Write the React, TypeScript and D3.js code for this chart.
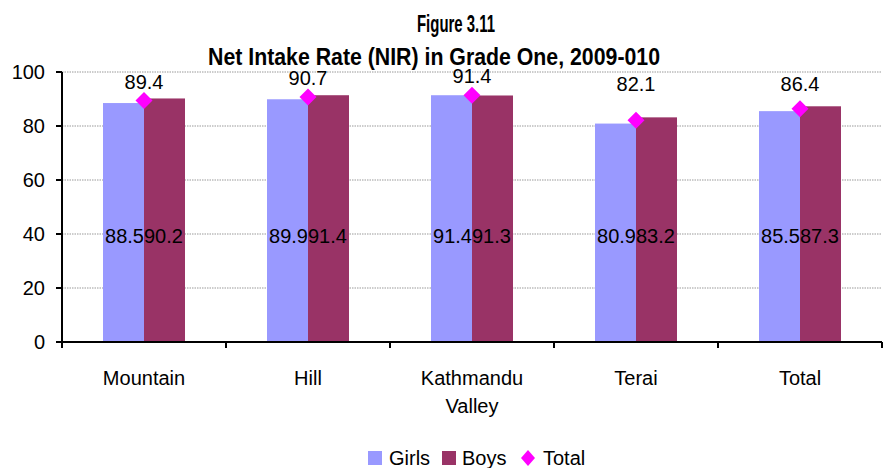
import React from "react";
import * as d3 from "d3";

const categories = ["Mountain", "Hill", "Kathmandu Valley", "Terai", "Total"];
const girls = [88.5, 89.9, 91.4, 80.9, 85.5];
const boys = [90.2, 91.4, 91.3, 83.2, 87.3];
const total = [89.4, 90.7, 91.4, 82.1, 86.4];
const yTicks = [0, 20, 40, 60, 80, 100];
const series = ["Girls", "Boys"];

const W = 883;
const H = 468;
const left = 62;
const right = 882;
const top = 72;
const bottom = 342;
const GIRLS = "#9999FF";
const BOYS = "#993366";
const TOTAL = "#FF00FF";
const FONT = "'Liberation Sans', Arial, sans-serif";
const NARROW = "'Liberation Sans Narrow', 'Arial Narrow', 'Liberation Sans', Arial, sans-serif";

export default function App() {
  const x = d3.scaleBand<string>().domain(categories).range([left, right]).paddingInner(0.5).paddingOuter(0.25);
  const xs = d3.scaleBand<string>().domain(series).range([0, x.bandwidth()]);
  const y = d3.scaleLinear().domain([0, 100]).range([bottom, top]);
  const step = x.step();
  const boundaries = d3.range(categories.length + 1).map((i) => left + i * step);

  return (
    <svg width={W} height={H} style={{ position: "absolute", left: 0, top: 0, background: "#fff" }}>
      <rect x={0} y={0} width={W} height={H} fill="#fff" />
      {/* title */}
      <text x={456} y={32} textAnchor="middle" fontFamily={NARROW} fontWeight="bold" fontSize={23} textLength={78} lengthAdjust="spacingAndGlyphs" fill="#000">
        Figure 3.11
      </text>
      <text x={434} y={65} textAnchor="middle" fontFamily={NARROW} fontWeight="bold" fontSize={23} textLength={452} lengthAdjust="spacingAndGlyphs" fill="#000">
        Net Intake Rate (NIR) in Grade One, 2009-010
      </text>
      {/* gridlines */}
      {yTicks.filter((t) => t > 0).map((t) => (
        <line key={t} x1={left} x2={right} y1={y(t)} y2={y(t)} stroke="#999" strokeWidth={1} strokeDasharray="1.5,1" />
      ))}
      {/* bars */}
      {categories.map((c, i) => (
        <g key={c}>
          <rect x={x(c)! + xs("Girls")!} y={y(girls[i])} width={xs.bandwidth()} height={bottom - y(girls[i])} fill={GIRLS} />
          <rect x={x(c)! + xs("Boys")!} y={y(boys[i])} width={xs.bandwidth()} height={bottom - y(boys[i])} fill={BOYS} />
        </g>
      ))}
      {/* inner labels */}
      {categories.map((c, i) => (
        <g key={c + "l"} fontFamily={FONT} fontSize={20} fill="#000">
          <text x={x(c)! + xs("Boys")!} y={243} textAnchor="end">{girls[i].toFixed(1)}</text>
          <text x={x(c)! + xs("Boys")!} y={243} textAnchor="start">{boys[i].toFixed(1)}</text>
        </g>
      ))}
      {/* total markers */}
      {categories.map((c, i) => {
        const cx = x(c)! + x.bandwidth() / 2;
        const cy = y(total[i]);
        const r = 8.5;
        return (
          <g key={c + "t"}>
            <path d={`M${cx},${cy - r}L${cx + r},${cy}L${cx},${cy + r}L${cx - r},${cy}Z`} fill={TOTAL} />
            <text x={cx} y={Math.min(cy - 12, 91)} textAnchor="middle" fontFamily={FONT} fontSize={20} fill="#000">
              {total[i].toFixed(1)}
            </text>
          </g>
        );
      })}
      {/* y axis */}
      <line x1={left} x2={left} y1={top} y2={bottom} stroke="#000" strokeWidth={2} />
      {yTicks.map((t) => (
        <g key={"yt" + t}>
          <line x1={left - 6} x2={left} y1={y(t)} y2={y(t)} stroke="#000" strokeWidth={2} />
          <text x={45} y={y(t) + 7} textAnchor="end" fontFamily={FONT} fontSize={20} fill="#000">{t}</text>
        </g>
      ))}
      {/* x axis */}
      <line x1={left} x2={right} y1={bottom} y2={bottom} stroke="#000" strokeWidth={2} />
      {boundaries.map((b, i) => (
        <line key={"xt" + i} x1={b} x2={b} y1={bottom} y2={bottom + 6} stroke="#000" strokeWidth={2} />
      ))}
      {categories.map((c) => {
        const words = c === "Kathmandu Valley" ? ["Kathmandu", "Valley"] : [c];
        const cx = x(c)! + x.bandwidth() / 2;
        return (
          <text key={c + "x"} textAnchor="middle" fontFamily={FONT} fontSize={20} fill="#000">
            {words.map((w, k) => (
              <tspan key={w} x={cx} y={385 + k * 28}>{w}</tspan>
            ))}
          </text>
        );
      })}
      {/* legend */}
      <g fontFamily={FONT} fontSize={20} fill="#000">
        <rect x={368} y={451} width={14} height={14} fill={GIRLS} />
        <text x={389} y={465}>Girls</text>
        <rect x={442} y={451} width={14} height={14} fill={BOYS} />
        <text x={462} y={465}>Boys</text>
        <path d={`M528,450L535,458L528,466L521,458Z`} fill={TOTAL} />
        <text x={543} y={465}>Total</text>
      </g>
    </svg>
  );
}
